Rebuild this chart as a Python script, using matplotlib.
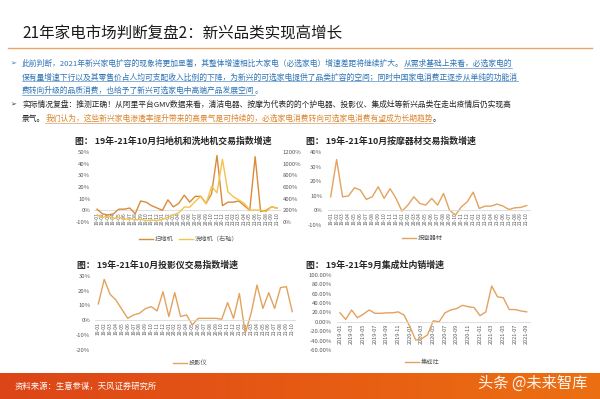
import numpy as np
import matplotlib
matplotlib.use("Agg")
import matplotlib.pyplot as plt
from matplotlib.lines import Line2D
from matplotlib.colors import LinearSegmentedColormap

plt.rcParams['font.family'] = ['Noto Sans CJK SC', 'DejaVu Sans']

# ---- data ----
months_34 = [f"{y}-{m:02d}" for y in (19, 20, 21) for m in range(1, 13)][:34]
months_33 = [f"20{y}-{m:02d}" for y in (19, 20, 21) for m in range(1, 13)][:33]

sweeper = [1, -3, -4, -3, 1, 1, 2, -3, 8, 7, 4, 2, 0, 9, 3, 6, 13,
           7, 12, 12, 6, 14, 47, 4, 7, 7, 8, 4, 0, 46, -1, 0, 3, 2]
scrubber = [120, 80, 100, 60, 80, 45, 60, 35, 45, 25, 35, 25, 45, 80, 120,
            160, 255, 255, 350, 440, 310, 610, 500, 1075, 518, 432, 376,
            320, 205, 205, 205, 176, 262, 234]
massage = [9.4, 35, 9.4, 10, 15.6, 14, 7.6, 9.4, 16.3, 8.3, 15, 8.3, -0.5,
           3.7, 9.4, 4.8, 3.7, 8.3, 3.7, 11.7, 0.2, -3.2, 2.5, 6, 12.6, 1.4,
           3, 3, 4.4, 3, 0.7, 1.8, 2.1, 3.4]
projector = [11, 27.5, 17.5, 13.6, 7.4, 1.3, 3.6, 4.7, 7.8, 9.2, 6.3, 19.2,
             2.5, 18.6, 2.5, 3.6, -3.1, 1.3, 1.3, 1.3, 1.3, 0.7, 11.9, 1.3,
             18, -8.7, 4.7, 23.7, 8, 18.6, 8, 22, 22.6, 5.8]
stove = [19, 5, 25, 8.5, 16, 25, 18, 18, 19, 19, 21, 14, -11, -39, -36, -28,
         2, 0, 19, 25, 28, 35, 32, 30, 13, 21, 76, 53, 51, 26, 26, 23, 21]

W, H = 600, 399
fig = plt.figure(figsize=(6, 3.99), dpi=100)
fig.patch.set_facecolor("white")
renderer = fig.canvas.get_renderer()

c_sweep = "#D98B3C"
c_scrub = "#F4C34A"
c_line = "#E3A25E"
c_blue = "#2F74B5"
c_orange = "#D9852F"
c_grey = "#595959"


def add_ax(l, t, r, b):
    return fig.add_axes([l / W, 1 - b / H, (r - l) / W, (b - t) / H])


def style(ax, ylim, yticks, fmt, n, xticks, xlabels, pad, xsize=3.6):
    ax.set_xlim(-0.5, n - 0.5)
    ax.set_ylim(*ylim)
    ax.set_yticks(yticks)
    ax.set_yticklabels([fmt.format(v) for v in yticks])
    ax.set_xticks(xticks)
    ax.set_xticklabels(xlabels)
    for s in ["top", "right", "left"]:
        ax.spines[s].set_visible(False)
    ax.spines["bottom"].set_position(("data", 0))
    ax.spines["bottom"].set_color("#D9D9D9")
    ax.spines["bottom"].set_linewidth(0.6)
    ax.tick_params(length=0, colors=c_grey)
    ax.tick_params(axis="y", labelsize=4.3, pad=pad)
    ax.tick_params(axis="x", labelsize=xsize, pad=1.5, labelrotation=90)
    ax.patch.set_alpha(0)


def fig_line(x0, x1, y, color, lw=1.0):
    fig.add_artist(Line2D([x0 / W, x1 / W], [1 - y / H, 1 - y / H],
                          color=color, lw=lw, transform=fig.transFigure))


def legend_item(x, y, label, color):
    fig_line(x, x + 14, y, color, 1.0)
    fig.text((x + 16) / W, 1 - y / H, label, fontsize=4.5, color=c_grey,
             va="center", ha="left")


def text_run(x, y, parts, size=5.6):
    for s, color, ul in parts:
        t = fig.text(x / W, 1 - y / H, s, fontsize=size, color=color,
                     va="baseline", ha="left")
        bb = t.get_window_extent(renderer)
        if ul:
            fig_line(x, bb.x1, y + 1.6, color, 0.4)
        x = bb.x1


# ---- slide header ----
fig.text(22 / W, 1 - 33 / H, "21年家电市场判断复盘2：新兴品类实现高增长",
         fontsize=11.2, color="#1A1A1A", va="center", ha="left")
fig_line(8, 592, 48, "#EAA66A", 1.0)

fig.text(10 / W, 1 - 66 / H, "➢", fontsize=5, color=c_blue, va="baseline")
text_run(22, 66, [
    ("此前判断，2021年新兴家电扩容的现象将更加显著，其整体增速相比大家电（必选家电）增速差距将继续扩大。", c_blue, False),
    ("从需求基础上来看，必选家电的", c_blue, True)])
text_run(22, 79.5, [
    ("保有量增速下行以及其零售价占人均可支配收入比例的下降，为新兴的可选家电提供了品类扩容的空间；同时中国家电消费正逐步从单纯的功能消", c_blue, True)])
text_run(22, 93, [
    ("费转向升级的品质消费，也给予了新兴可选家电中高端产品发展空间", c_blue, True),
    ("。", c_blue, False)])
fig.text(10 / W, 1 - 107 / H, "➢", fontsize=5, color="#333333", va="baseline")
text_run(22, 107, [
    ("实际情况复盘：推测正确！从阿里平台GMV数据来看，清洁电器、按摩为代表的的个护电器、投影仪、集成灶等新兴品类在走出疫情后仍实现高", "#262626", False)])
text_run(22, 121, [
    ("景气。", "#262626", False),
    ("我们认为，这些新兴家电渗透率提升带来的高景气是可持续的，必选家电消费转向可选家电消费有望成为长期趋势", c_orange, True),
    ("。", "#262626", False)])

# ---- chart titles ----
tkw = dict(fontsize=6.4, color="#262626", va="center", ha="left", weight="bold")
fig.text(75 / W, 1 - 141 / H, "图： 19年-21年10月扫地机和洗地机交易指数增速", **tkw)
fig.text(306 / W, 1 - 141 / H, "图： 19年-21年10月按摩器材交易指数增速", **tkw)
fig.text(77 / W, 1 - 265 / H, "图： 19年-21年10月投影仪交易指数增速", **tkw)
fig.text(306 / W, 1 - 265 / H, "图： 19年-21年9月集成灶内销增速", **tkw)

x34 = np.arange(34)
x33 = np.arange(33)

# chart 1: sweeper + scrubber (right axis)
ax1 = add_ax(94.3, 152, 279.7, 222)
ax1.plot(x34, sweeper, color=c_sweep, lw=1.0, zorder=3)
style(ax1, (-10, 50), range(-10, 51, 10), "{:.0f}%", 34, x34, months_34, 3)
ax1b = ax1.twinx()
ax1b.plot(x34, scrubber, color=c_scrub, lw=1.0, zorder=2)
ax1b.set_ylim(0, 1200)
ax1b.set_yticks(range(0, 1201, 200))
ax1b.set_yticklabels([f"{v}%" for v in range(0, 1201, 200)])
for s in ax1b.spines.values():
    s.set_visible(False)
ax1b.tick_params(length=0, colors=c_grey, labelsize=4.3, pad=2)
legend_item(139, 239, "扫地机", c_sweep)
legend_item(179, 239, "洗地机（右轴）", c_scrub)

# chart 2: massage
ax2 = add_ax(327.7, 152.3, 529.7, 225)
ax2.plot(x34, massage, color=c_line, lw=1.0)
style(ax2, (-10, 40), range(-10, 41, 10), "{:.0f}%", 34, x34, months_34, 4)
legend_item(402, 238, "按摩器材", c_line)

# chart 3: projector
ax3 = add_ax(95.4, 275.7, 295.2, 350)
ax3.plot(x34, projector, color=c_line, lw=1.0)
style(ax3, (-20, 30), range(-20, 31, 10), "{:.0f}%", 34, x34, months_34, 3.6)
legend_item(173, 363, "投影仪", c_line)

# chart 4: integrated stove
ax4 = add_ax(337, 274.7, 529.6, 350)
ax4.plot(x33, stove, color=c_line, lw=1.0)
style(ax4, (-60, 100), range(-60, 101, 20), "{:.2f}%", 33,
      x33[::2], months_33[::2], 3.6, xsize=4.0)
legend_item(405, 362, "集成灶", c_line)

# ---- footer ----
axf = fig.add_axes([0, 0, 1, 26.5 / H])
cmap = LinearSegmentedColormap.from_list("f", ["#DC4518", "#E65A14", "#EC7012"])
axf.imshow(np.linspace(0, 1, 256)[None, :], cmap=cmap, aspect="auto",
           extent=(0, 1, 0, 1))
axf.axis("off")
fig.text(15 / W, 1 - 386 / H, "资料来源：生意参谋，天风证券研究所",
         fontsize=6, color="white", va="center", ha="left")
fig.text(478 / W, 1 - 383 / H, "头条 @未来智库", fontsize=11,
         color="white", va="center", ha="left", alpha=0.92)

fig.savefig("out.png", dpi=100)
